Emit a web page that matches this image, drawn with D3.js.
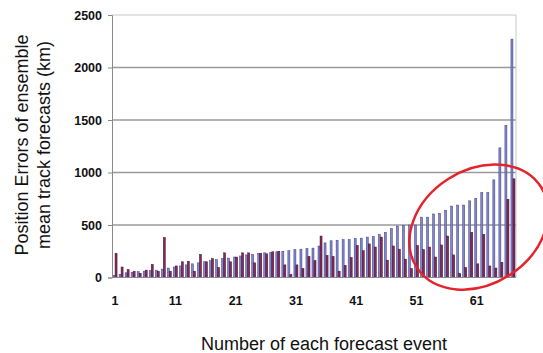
<!DOCTYPE html>
<html>
<head>
<meta charset="utf-8">
<script src="https://cdn.jsdelivr.net/npm/d3@7"></script>
<style>
  body { margin: 0; background: #fff; }
  text { font-family: "Liberation Sans", Arial, sans-serif; }
</style>
</head>
<body>
<div id="chart"></div>
<script>
// event numbers 1..67
const events = d3.range(1, 68);

// ensemble mean track errors (km)
const ensembleErr = [20, 30, 45, 50, 55, 60, 65, 70, 80, 90,
  100, 110, 120, 130, 140, 150, 160, 170, 180, 185,
  195, 205, 215, 220, 230, 235, 240, 245, 250, 255,
  265, 270, 275, 280, 300, 330, 350, 355, 360, 360,
  370, 375, 385, 390, 410, 430, 465, 490, 495, 500,
  500, 575, 575, 605, 610, 640, 680, 690, 690, 730,
  755, 810, 810, 930, 1235, 1450, 2270];

// second series
const otherErr = [230, 100, 75, 60, 40, 70, 125, 60, 380, 60,
  110, 150, 155, 60, 220, 150, 180, 95, 235, 150,
  195, 235, 235, 140, 230, 225, 245, 250, 120, 30,
  120, 85, 200, 160, 395, 210, 200, 60, 115, 190,
  305, 255, 320, 290, 385, 165, 300, 270, 175, 85,
  305, 265, 290, 195, 310, 395, 215, 40, 95, 430,
  130, 410, 110, 90, 145, 745, 940];

const yTicks = [0, 500, 1000, 1500, 2000, 2500];
const xTickLabels = [1, 11, 21, 31, 41, 51, 61];
const series = ["ens", "other"];

const svgWidth = 543;
const svgHeight = 353;
const margin = {top: 15, right: 27, bottom: 75.5, left: 112};
const chartWidth = svgWidth - margin.left - margin.right;
const chartHeight = svgHeight - margin.top - margin.bottom;

const svg = d3.select("#chart")
  .append("svg")
  .attr("width", svgWidth)
  .attr("height", svgHeight);

const chartGroup = svg.append("g")
  .attr("transform", `translate(${margin.left}, ${margin.top})`);

const xScale = d3.scaleBand()
  .domain(events)
  .range([0, chartWidth])
  .paddingInner(0.33)
  .paddingOuter(0.17);

const xSeries = d3.scaleBand()
  .domain(series)
  .range([0, xScale.bandwidth()]);

const yScale = d3.scaleLinear()
  .domain([0, 2500])
  .range([chartHeight, 0]);

// gridlines
chartGroup.selectAll(".grid")
  .data(yTicks.filter(d => d > 0 && d < 2500))
  .enter()
  .append("line")
  .attr("x1", 0)
  .attr("x2", chartWidth)
  .attr("y1", d => yScale(d))
  .attr("y2", d => yScale(d))
  .attr("stroke", "#9a9a9a")
  .attr("stroke-width", 1.3);

// plot frame (top and right light grey)
chartGroup.append("path")
  .attr("d", `M0,${yScale(2500)}H${chartWidth}V${chartHeight}`)
  .attr("fill", "none")
  .attr("stroke", "#c8c8c8")
  .attr("stroke-width", 1);

const colors = {ens: "#8184cf", other: "#85285a"};
const strokes = {ens: "#3e4080", other: "#40122c"};

const rows = events.map((e, i) => ({event: e, ens: ensembleErr[i], other: otherErr[i]}));

const groups = chartGroup.selectAll(".grp")
  .data(rows)
  .enter()
  .append("g")
  .attr("transform", d => `translate(${xScale(d.event)},0)`);

groups.selectAll("rect")
  .data(d => series.map(k => ({key: k, value: d[k]})))
  .enter()
  .append("rect")
  .attr("x", d => xSeries(d.key))
  .attr("width", xSeries.bandwidth())
  .attr("y", d => yScale(d.value))
  .attr("height", d => chartHeight - yScale(d.value))
  .attr("fill", d => colors[d.key])
  .attr("stroke", d => strokes[d.key])
  .attr("stroke-width", 0.5);

// y axis
const yAxis = d3.axisLeft(yScale).tickValues(yTicks).tickFormat(d3.format("d")).tickSize(4).tickPadding(6);
const yG = chartGroup.append("g").call(yAxis);
yG.select(".domain").attr("stroke", "#8a8a8a");
yG.selectAll(".tick line").attr("stroke", "#8a8a8a");
yG.selectAll(".tick text")
  .attr("font-size", "12.5px")
  .attr("font-weight", "bold")
  .attr("fill", "#111");

// x axis line
chartGroup.append("line")
  .attr("x1", 0).attr("x2", chartWidth)
  .attr("y1", chartHeight).attr("y2", chartHeight)
  .attr("stroke", "#8a8a8a");

// x tick labels
chartGroup.selectAll(".xlab")
  .data(xTickLabels)
  .enter()
  .append("text")
  .attr("x", d => xScale(d) + xScale.bandwidth() / 2)
  .attr("y", chartHeight + 27)
  .attr("text-anchor", "middle")
  .attr("font-size", "12.5px")
  .attr("font-weight", "bold")
  .attr("fill", "#111")
  .text(d => d);

// axis titles
const yTitle = svg.append("text")
  .attr("transform", `translate(28, ${margin.top + 130}) rotate(-90)`)
  .attr("text-anchor", "middle")
  .attr("font-size", "18px")
  .attr("fill", "#111");
yTitle.append("tspan").attr("x", 0).attr("dy", 0).text("Position Errors of ensemble");
yTitle.append("tspan").attr("x", 0).attr("dy", 22).text("mean track forecasts (km)");

svg.append("text")
  .attr("x", 324)
  .attr("y", 350)
  .attr("text-anchor", "middle")
  .attr("font-size", "18px")
  .attr("fill", "#111")
  .text("Number of each forecast event");

// red ellipse highlighting the large errors
const cx = margin.left + xScale(61) + xScale.bandwidth();
const cy = margin.top + yScale(480);
svg.append("ellipse")
  .attr("cx", cx)
  .attr("cy", cy)
  .attr("rx", 74)
  .attr("ry", 57)
  .attr("transform", `rotate(-33, ${cx}, ${cy})`)
  .attr("fill", "none")
  .attr("stroke", "#e3242b")
  .attr("stroke-width", 2.5);
</script>
</body>
</html>
